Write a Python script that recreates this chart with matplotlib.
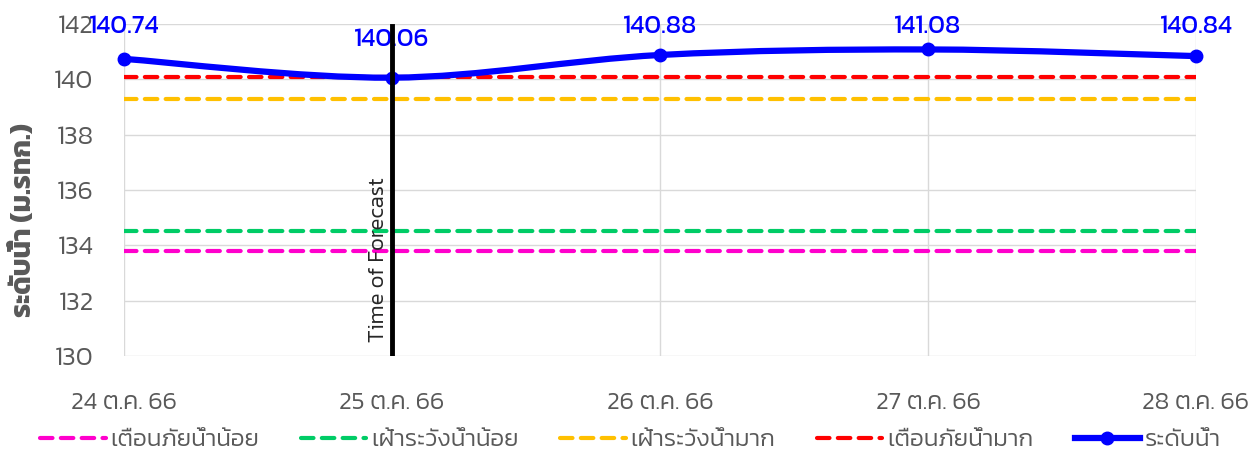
import matplotlib
matplotlib.use('Agg')
import matplotlib.pyplot as plt
import numpy as np
from matplotlib.lines import Line2D
from matplotlib.path import Path
from matplotlib.patches import PathPatch

# data
dates = ['24 ต.ค. 66', '25 ต.ค. 66', '26 ต.ค. 66', '27 ต.ค. 66', '28 ต.ค. 66']
water_level = [140.74, 140.06, 140.88, 141.08, 140.84]
warn_low = 133.8      # เตือนภัยน้ำน้อย
watch_low = 134.5     # เฝ้าระวังน้ำน้อย
watch_high = 139.3    # เฝ้าระวังน้ำมาก
warn_high = 140.1     # เตือนภัยน้ำมาก
forecast_idx = 1

plt.rcParams['font.family'] = ['Kanit', 'DejaVu Sans']
plt.rcParams['font.weight'] = 300

grey = '#595959'
grid_c = '#D9D9D9'

fig = plt.figure(figsize=(12.56, 4.55), dpi=100)
ax = fig.add_axes([124 / 1256, 1 - 356 / 455, (1196 - 124) / 1256, (356 - 24) / 455])

x = np.arange(len(dates))
ax.set_xlim(0, len(dates) - 1)
ax.set_ylim(130, 142)
ax.set_yticks(np.arange(130, 143, 2))
ax.set_xticks(x)
ax.set_xticklabels(dates)
ax.grid(True, color=grid_c, linewidth=1)
ax.set_axisbelow(True)
for s in ax.spines.values():
    s.set_visible(False)
ax.tick_params(length=0, labelcolor=grey)
ax.tick_params(axis='x', pad=26, labelsize=18)
ax.tick_params(axis='y', pad=22, labelsize=19)

thresholds = [
    (warn_low, '#FF00CC', 'เตือนภัยน้ำน้อย'),
    (watch_low, '#00CC66', 'เฝ้าระวังน้ำน้อย'),
    (watch_high, '#FFC000', 'เฝ้าระวังน้ำมาก'),
    (warn_high, '#FF0000', 'เตือนภัยน้ำมาก'),
]
handles = []
for val, col, lab in thresholds:
    ax.plot([x[0], x[-1]], [val, val], color=col, lw=3, ls=(0, (3, 2)),
            dash_capstyle='round')
    handles.append(Line2D([], [], color=col, lw=3, ls=(0, (3, 2)), dash_capstyle='round', label=lab))

# smoothed line through the points (bezier, like the spreadsheet's smooth line)
pts = np.column_stack([x, water_level]).astype(float)
ext = np.vstack([pts[0], pts, pts[-1]])
verts = [pts[0]]
codes = [Path.MOVETO]
for i in range(len(pts) - 1):
    p0, p1, p2, p3 = ext[i], ext[i + 1], ext[i + 2], ext[i + 3]
    verts += [p1 + (p2 - p0) / 6, p2 - (p3 - p1) / 6, p2]
    codes += [Path.CURVE4] * 3
ax.add_patch(PathPatch(Path(verts, codes), fill=False, edgecolor='#0000FF', lw=4.5,
                       capstyle='round', zorder=4))
ax.plot(x, water_level, 'o', color='#0000FF', ms=9, zorder=5, clip_on=False)
handles.append(Line2D([], [], color='#0000FF', lw=4.5, marker='o', ms=9, label='ระดับน้ำ'))

# labels sit above the points, kept inside the top of the plot
for xi, v in zip(x, water_level):
    ax.text(xi, min(v + 1.36, 141.9), f'{v:.2f}', ha='center', va='center',
            color='#0000FF', fontsize=18.5, fontweight=400, zorder=6, clip_on=False)

ax.axvline(forecast_idx, ymin=0, ymax=0.995, color='black', lw=3.5, zorder=6)
ax.annotate('Time of Forecast', (forecast_idx, 130), xytext=(-3, 10), textcoords='offset points',
            rotation=90, ha='right', va='bottom', fontsize=16, color='#262626')

ax.set_ylabel('ระดับน้ำ (ม.รทก.)', fontsize=20, fontweight='bold', color=grey)
ax.yaxis.set_label_coords(-0.081, 0.41)

fig.legend(handles=handles, loc='center', bbox_to_anchor=(0.502, 1 - 440 / 455), ncol=5,
           frameon=False, fontsize=17.5, handlelength=2.7, columnspacing=1.7,
           handletextpad=0.2, labelcolor=grey)

fig.savefig('out.png', dpi=100)
